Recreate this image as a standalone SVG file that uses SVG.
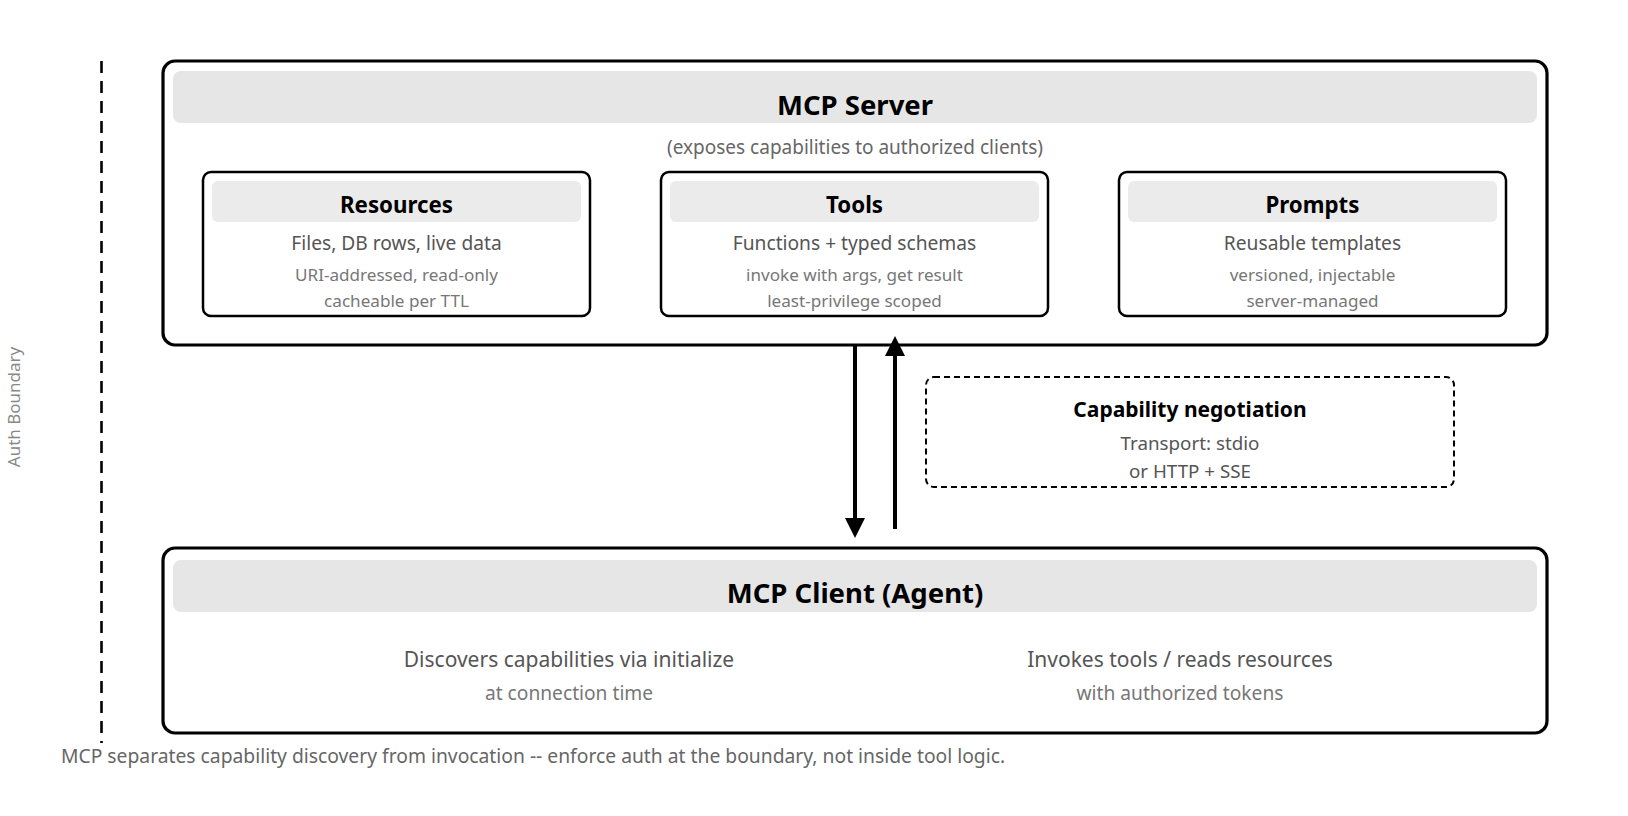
<svg xmlns="http://www.w3.org/2000/svg" width="1628" height="816" viewBox="0 0 1628 816">
<defs>
<marker id="ah" markerUnits="userSpaceOnUse" markerWidth="20" markerHeight="20" refX="10" refY="10" orient="auto">
<path d="M0,0 L20,10 L0,20 z" fill="#000"/>
</marker>
<style>
text{font-family:"Noto Sans","Open Sans","Liberation Sans",sans-serif;text-anchor:middle}
.outer{fill:#fff;stroke:#000;stroke-width:3.2}
.hdr{fill:#e6e6e6}
.chdr{fill:#ebebeb}
.child{fill:#fff;stroke:#000;stroke-width:2.5}
.big{font-size:27.5px;font-weight:bold;fill:#000}
.ct{font-size:22.3px;font-weight:bold;fill:#000}
.l1{font-size:19.2px;fill:#555}
.l2{font-size:17.1px;fill:#777}
.sub{font-size:19px;fill:#666}
.cl1{font-size:21px;fill:#555}
.cl2{font-size:19.2px;fill:#777}
</style>
</defs>
<rect width="1628" height="816" fill="#fff"/>
<g id="auth-boundary">
<line x1="101.5" y1="61" x2="101.5" y2="743" stroke="#000" stroke-width="2.6" stroke-dasharray="12,8"/>
<text transform="translate(20,407) rotate(-90)" style="font-size:17px;fill:#888">Auth Boundary</text>
</g>
<g id="mcp-server">
<rect class="outer" x="163" y="61" width="1384" height="284" rx="12"/>
<rect class="hdr" x="173" y="71" width="1364" height="52" rx="8"/>
<text class="big" x="855" y="115">MCP Server</text>
<text class="sub" x="855" y="154">(exposes capabilities to authorized clients)</text>
</g>
<g id="resources">
<rect class="child" x="203" y="172" width="387" height="144" rx="8"/>
<rect class="chdr" x="212" y="181" width="369" height="41" rx="6"/>
<text class="ct" x="396.5" y="213">Resources</text>
<text class="l1" x="396.5" y="250">Files, DB rows, live data</text>
<text class="l2" x="396.5" y="281">URI-addressed, read-only</text>
<text class="l2" x="396.5" y="307">cacheable per TTL</text>
</g>
<g id="tools">
<rect class="child" x="661" y="172" width="387" height="144" rx="8"/>
<rect class="chdr" x="670" y="181" width="369" height="41" rx="6"/>
<text class="ct" x="854.5" y="213">Tools</text>
<text class="l1" x="854.5" y="250">Functions + typed schemas</text>
<text class="l2" x="854.5" y="281">invoke with args, get result</text>
<text class="l2" x="854.5" y="307">least-privilege scoped</text>
</g>
<g id="prompts">
<rect class="child" x="1119" y="172" width="387" height="144" rx="8"/>
<rect class="chdr" x="1128" y="181" width="369" height="41" rx="6"/>
<text class="ct" x="1312.5" y="213">Prompts</text>
<text class="l1" x="1312.5" y="250">Reusable templates</text>
<text class="l2" x="1312.5" y="281">versioned, injectable</text>
<text class="l2" x="1312.5" y="307">server-managed</text>
</g>
<g id="capability-negotiation">
<rect x="926" y="377" width="528" height="110" rx="8" fill="none" stroke="#000" stroke-width="2" stroke-dasharray="6,4"/>
<text x="1190" y="417" style="font-size:21px;font-weight:bold;fill:#000">Capability negotiation</text>
<text x="1190" y="450" style="font-size:18.8px;fill:#555">Transport: stdio</text>
<text x="1190" y="478" style="font-size:18.8px;fill:#555">or HTTP + SSE</text>
</g>
<g id="connectors">
<line x1="855" y1="346" x2="855" y2="528" stroke="#000" stroke-width="4" marker-end="url(#ah)"/>
<line x1="895" y1="529" x2="895" y2="346" stroke="#000" stroke-width="4" marker-end="url(#ah)"/>
</g>
<g id="mcp-client">
<rect class="outer" x="163" y="548" width="1384" height="185" rx="12"/>
<rect class="hdr" x="173" y="560" width="1364" height="52" rx="8"/>
<text class="big" x="855" y="603">MCP Client (Agent)</text>
<text class="cl1" x="569" y="667">Discovers capabilities via initialize</text>
<text class="cl2" x="569" y="700">at connection time</text>
<text class="cl1" x="1180" y="667">Invokes tools / reads resources</text>
<text class="cl2" x="1180" y="700">with authorized tokens</text>
</g>
<g id="footer">
<text x="61" y="763" style="text-anchor:start;font-size:19.3px;fill:#666">MCP separates capability discovery from invocation -- enforce auth at the boundary, not inside tool logic.</text>
</g>
</svg>
